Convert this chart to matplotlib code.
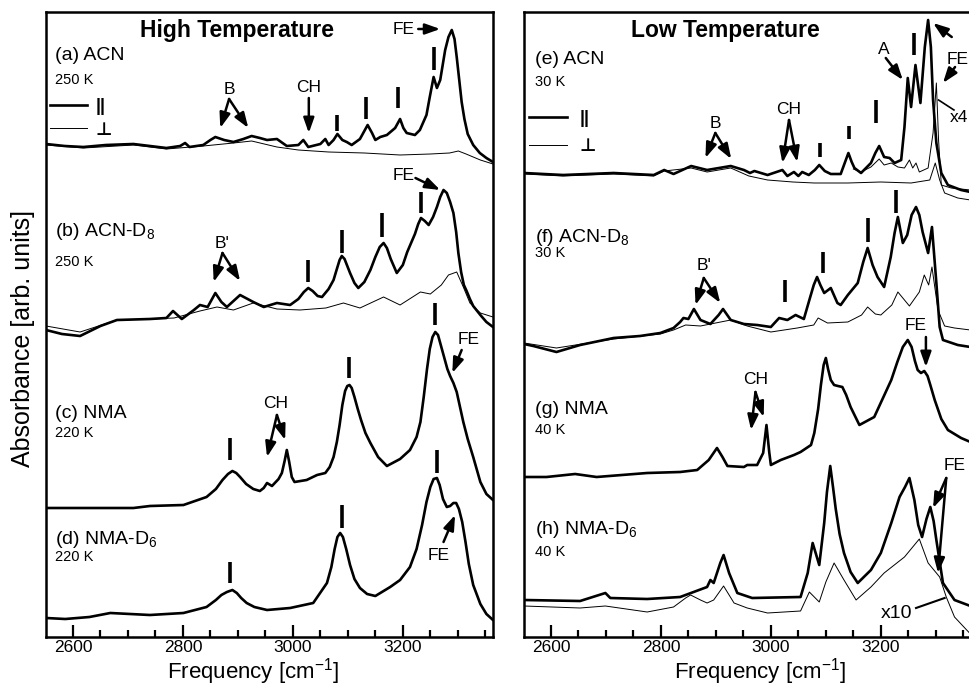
import matplotlib
matplotlib.use('Agg')
import matplotlib.pyplot as plt
from matplotlib.lines import Line2D
from matplotlib.ticker import MultipleLocator

plt.rcParams['font.family'] = ['Liberation Sans', 'DejaVu Sans']
plt.rcParams['mathtext.fontset'] = 'custom'
plt.rcParams['mathtext.rm'] = 'Liberation Sans'
plt.rcParams['mathtext.it'] = 'Liberation Sans:italic'
plt.rcParams['mathtext.bf'] = 'Liberation Sans:bold'

# ---- High temperature spectra (stacked, arb. units) ----
acn_hi_x = [2551, 2585, 2619, 2660, 2710, 2740, 2770, 2795, 2804, 2812, 2837, 2850, 2859, 2875, 2892, 2910,
            2925, 2940, 2953, 2971, 2989, 3010, 3019, 3028, 3050, 3059, 3065, 3074, 3081, 3090, 3098, 3107,
            3122, 3131, 3136, 3144, 3150, 3159, 3171, 3186, 3195, 3201, 3207, 3222, 3231, 3243, 3249, 3256,
            3262, 3268, 3277, 3283, 3289, 3294, 3298, 3303, 3307, 3312, 3318, 3328, 3340, 3352, 3364]
acn_hi_par = [493, 491, 490, 492, 493, 491, 489, 491, 494, 490, 492, 497, 500, 497, 495, 498,
              501, 499, 497, 498, 491, 492, 497, 490, 493, 498, 492, 497, 503, 497, 495, 492,
              498, 507, 512, 504, 497, 500, 502, 509, 518, 509, 504, 502, 507, 522, 540, 560,
              549, 557, 587, 600, 607, 598, 580, 555, 535, 518, 503, 492, 484, 479, 475]
acn_hi_perp_x = [2551, 2619, 2710, 2770, 2837, 2892, 2925, 2971, 3010, 3065, 3130, 3195, 3250, 3285,
                 3301, 3315, 3341, 3364]
acn_hi_perp = [492, 489, 492, 488, 491, 494, 496, 490, 487, 485, 484, 482, 483, 484, 486, 483, 477, 473]

acnd_hi_x = [2551, 2580, 2613, 2650, 2680, 2740, 2770, 2782, 2798, 2820, 2831, 2845, 2859, 2870, 2880,
             2904, 2928, 2947, 2971, 2995, 3010, 3020, 3028, 3036, 3045, 3053, 3065, 3074, 3080, 3085,
             3089, 3094, 3099, 3104, 3112, 3119, 3130, 3141, 3150, 3158, 3165, 3171, 3178, 3189, 3200,
             3208, 3215, 3222, 3228, 3233, 3240, 3247, 3255, 3262, 3268, 3274, 3280, 3286, 3292, 3297,
             3301, 3306, 3311, 3316, 3322, 3328, 3341, 3352, 3364]
acnd_hi_par = [307, 303, 301, 311, 317, 318, 319, 326, 318, 327, 332, 330, 344, 335, 330,
               342, 335, 330, 334, 332, 338, 345, 349, 346, 341, 340, 348, 357, 368, 377,
               381, 378, 371, 364, 354, 349, 355, 367, 380, 390, 394, 389, 378, 364, 372,
               385, 394, 403, 413, 419, 416, 412, 420, 430, 440, 447, 444, 435, 424, 405,
               384, 365, 352, 346, 338, 331, 322, 315, 310]
acnd_hi_perp_x = [2551, 2613, 2680, 2740, 2784, 2831, 2862, 2892, 2928, 2971, 3013, 3060, 3092, 3122,
                  3165, 3195, 3232, 3250, 3270, 3283, 3298, 3310, 3322, 3341, 3364]
acnd_hi_perp = [311, 305, 317, 318, 319, 326, 330, 327, 334, 328, 327, 329, 334, 329,
                340, 332, 345, 343, 352, 362, 365, 350, 334, 324, 320]

nma_hi_x = [2551, 2625, 2710, 2740, 2801, 2843, 2860, 2872, 2882, 2890, 2897, 2904, 2915, 2928, 2940,
            2947, 2953, 2962, 2974, 2980, 2985, 2989, 2993, 2998, 3003, 3025, 3044, 3059, 3067, 3074,
            3080, 3085, 3090, 3095, 3099, 3103, 3107, 3112, 3118, 3124, 3132, 3141, 3155, 3171, 3195,
            3213, 3225, 3232, 3238, 3244, 3249, 3254, 3259, 3264, 3269, 3275, 3281, 3286, 3292, 3298,
            3304, 3310, 3318, 3328, 3341, 3352, 3364]
nma_hi_par = [129, 129, 129, 131, 132, 140, 148, 157, 163, 166, 164, 160, 153, 148, 146,
              149, 154, 151, 158, 164, 176, 187, 176, 160, 155, 157, 162, 164, 170, 180,
              195, 212, 232, 246, 251, 252, 249, 240, 228, 217, 204, 194, 180, 171, 178,
              187, 200, 215, 240, 268, 288, 300, 305, 302, 292, 280, 268, 261, 254, 245,
              230, 215, 198, 180, 155, 143, 137]

nmad_hi_x = [2551, 2586, 2630, 2668, 2740, 2801, 2843, 2860, 2870, 2880, 2890, 2898, 2906, 2916, 2930,
             2953, 2995, 3037, 3062, 3070, 3076, 3081, 3086, 3091, 3097, 3104, 3112, 3122, 3135, 3150,
             3177, 3195, 3213, 3225, 3235, 3243, 3250, 3256, 3262, 3267, 3273, 3280, 3286, 3292, 3297,
             3302, 3308, 3314, 3320, 3328, 3341, 3352, 3364]
nmad_hi_par = [19, 18, 20, 24, 22, 24, 30, 37, 42, 45, 47, 44, 39, 34, 30,
               27, 29, 34, 54, 70, 88, 100, 104, 100, 88, 72, 58, 49, 43, 41,
               50, 57, 70, 88, 112, 135, 150, 158, 159, 152, 138, 130, 131, 134, 134,
               128, 115, 95, 73, 52, 33, 23, 17]

# ---- Low temperature spectra ----
acn_lo_x = [2551, 2622, 2714, 2787, 2806, 2823, 2855, 2884, 2927, 2951, 2962, 2970, 2994, 3021, 3030,
            3042, 3050, 3057, 3069, 3080, 3088, 3098, 3109, 3127, 3135, 3141, 3147, 3152, 3164, 3182,
            3190, 3197, 3206, 3216, 3225, 3237, 3243, 3249, 3255, 3263, 3272, 3280, 3286, 3291, 3295,
            3301, 3310, 3322, 3346, 3363]
acn_lo_par = [464, 462, 464, 462, 467, 463, 471, 467, 471, 467, 464, 466, 462, 467, 461,
              465, 461, 465, 462, 467, 472, 466, 463, 463, 475, 484, 475, 469, 464, 474,
              484, 491, 480, 479, 474, 477, 510, 559, 530, 572, 534, 590, 617, 590, 537,
              494, 464, 452, 447, 445]
acn_lo_perp_x = [2551, 2622, 2714, 2787, 2806, 2855, 2884, 2927, 2960, 2994, 3040, 3079, 3140, 3200,
                 3255, 3289, 3299, 3307, 3316, 3340, 3363]
acn_lo_perp = [463, 461, 463, 461, 466, 469, 465, 469, 461, 457, 455, 454, 454, 455,
               454, 457, 474, 457, 444, 439, 437]
acn_lo_x4_x = [3150, 3164, 3182, 3197, 3206, 3219, 3231, 3243, 3252, 3258, 3264, 3270, 3286, 3295,
               3301, 3305, 3310, 3328, 3363]
acn_lo_x4 = [468, 465, 470, 478, 472, 474, 470, 469, 477, 469, 474, 465, 469, 504,
             554, 497, 452, 449, 447]

acnd_lo_x = [2551, 2568, 2610, 2653, 2714, 2762, 2799, 2823, 2835, 2841, 2850, 2860, 2872, 2890, 2905,
             2913, 2927, 2951, 2975, 3000, 3015, 3030, 3045, 3060, 3070, 3078, 3084, 3090, 3097, 3109,
             3121, 3127, 3140, 3158, 3168, 3176, 3185, 3194, 3206, 3218, 3225, 3231, 3240, 3248, 3256,
             3264, 3270, 3276, 3286, 3293, 3301, 3307, 3313, 3340, 3363]
acnd_lo_par = [293, 291, 285, 292, 299, 301, 304, 309, 315, 319, 318, 328, 317, 313, 322,
               328, 317, 313, 312, 310, 319, 317, 322, 318, 337, 352, 360, 352, 344, 349,
               334, 332, 342, 354, 375, 389, 372, 360, 350, 380, 404, 420, 394, 402, 422,
               430, 422, 405, 384, 410, 354, 310, 297, 292, 290]
acnd_lo_perp_x = [2551, 2610, 2714, 2799, 2823, 2845, 2872, 2927, 2957, 3000, 3048, 3078, 3086, 3103,
                  3140, 3165, 3176, 3190, 3200, 3220, 3231, 3252, 3270, 3279, 3287, 3293, 3304, 3316,
                  3334, 3363]
acnd_lo_perp = [294, 289, 298, 303, 307, 312, 311, 317, 311, 305, 309, 312, 319, 314,
                315, 322, 330, 323, 322, 332, 345, 331, 345, 362, 352, 370, 327, 311,
                309, 307]

nma_lo_x = [2551, 2592, 2644, 2683, 2775, 2835, 2866, 2887, 2902, 2912, 2921, 2951, 2957, 2975, 2986,
            2992, 2997, 3000, 3018, 3042, 3054, 3073, 3079, 3086, 3091, 3096, 3100, 3104, 3109, 3115,
            3122, 3130, 3137, 3145, 3161, 3188, 3219, 3230, 3240, 3249, 3256, 3262, 3267, 3273, 3279,
            3285, 3290, 3298, 3310, 3322, 3346, 3363]
nma_lo_par = [160, 160, 163, 160, 164, 165, 167, 177, 189, 180, 171, 170, 172, 172, 184,
              212, 185, 172, 177, 182, 185, 192, 204, 228, 252, 272, 279, 268, 257, 252,
              251, 250, 242, 230, 212, 220, 257, 275, 290, 297, 290, 276, 267, 264, 266,
              261, 252, 237, 218, 207, 199, 195]

nmad_lo_x = [2551, 2653, 2699, 2708, 2775, 2835, 2884, 2890, 2896, 2908, 2914, 2924, 2939, 2966, 3054,
             3067, 3076, 3088, 3097, 3102, 3108, 3113, 3118, 3125, 3133, 3145, 3158, 3182, 3200, 3219,
             3234, 3244, 3252, 3261, 3268, 3275, 3283, 3290, 3296, 3301, 3313, 3334, 3363]
nmad_lo_par = [37, 36, 44, 39, 38, 40, 50, 57, 54, 74, 82, 64, 44, 39, 40,
               64, 94, 72, 114, 145, 171, 150, 128, 103, 84, 65, 54, 67, 84, 114,
               140, 150, 159, 137, 112, 100, 118, 130, 116, 97, 54, 37, 31]
nmad_lo_x10_x = [2551, 2653, 2699, 2775, 2823, 2845, 2854, 2872, 2884, 2896, 2914, 2933, 2957, 2994,
                 3054, 3070, 3088, 3100, 3115, 3133, 3155, 3182, 3206, 3243, 3270, 3286, 3307, 3319,
                 3334, 3363]
nmad_lo_x10 = [31, 29, 31, 25, 30, 39, 42, 37, 34, 37, 51, 34, 29, 24,
               26, 45, 35, 55, 74, 57, 37, 50, 64, 80, 98, 74, 60, 40, 20, 3]

# peak markers: (frequency, bottom, top)
marks_hi = [(3081, 506, 522), (3133, 518, 540), (3191, 529, 550), (3256, 567, 590),
            (3028, 355, 377), (3089, 384, 407), (3163, 400, 424), (3233, 424, 445),
            (2886, 177, 199), (3102, 259, 280), (3259, 312, 334),
            (2886, 54, 75), (3089, 109, 132), (3263, 164, 187)]
marks_lo = [(3090, 480, 494), (3142, 498, 511), (3192, 514, 537), (3261, 582, 604),
            (3025, 335, 357), (3095, 364, 385), (3176, 395, 419), (3228, 424, 447)]

thick = 1.9
thin = 0.7
fig = plt.figure(figsize=(9.69, 6.88), dpi=100)
ax1 = fig.add_axes([46 / 969, 51 / 688, 447 / 969, 625 / 688])
ax2 = fig.add_axes([524 / 969, 51 / 688, 447 / 969, 625 / 688])

ax1.plot(acn_hi_x, acn_hi_par, color='k', lw=thick)
ax1.plot(acn_hi_perp_x, acn_hi_perp, color='k', lw=thin)
ax1.plot(acnd_hi_x, acnd_hi_par, color='k', lw=thick)
ax1.plot(acnd_hi_perp_x, acnd_hi_perp, color='k', lw=thin)
ax1.plot(nma_hi_x, nma_hi_par, color='k', lw=thick)
ax1.plot(nmad_hi_x, nmad_hi_par, color='k', lw=thick)

ax2.plot(acn_lo_x, acn_lo_par, color='k', lw=thick)
ax2.plot(acn_lo_perp_x, acn_lo_perp, color='k', lw=thin)
ax2.plot(acn_lo_x4_x, acn_lo_x4, color='k', lw=thin)
ax2.plot(acnd_lo_x, acnd_lo_par, color='k', lw=thick)
ax2.plot(acnd_lo_perp_x, acnd_lo_perp, color='k', lw=thin)
ax2.plot(nma_lo_x, nma_lo_par, color='k', lw=thick)
ax2.plot(nmad_lo_x, nmad_lo_par, color='k', lw=thick)
ax2.plot(nmad_lo_x10_x, nmad_lo_x10, color='k', lw=thin)

for ax, marks in [(ax1, marks_hi), (ax2, marks_lo)]:
    for f, y0, y1 in marks:
        ax.vlines(f, y0, y1, color='k', lw=2.6)
    ax.set_xlim(2551, 3364)
    ax.set_ylim(0, 625)
    ax.set_yticks([])
    ax.xaxis.set_major_locator(MultipleLocator(200))
    ax.xaxis.set_minor_locator(MultipleLocator(50))
    ax.tick_params(axis='x', which='major', direction='in', length=9, width=1.6, labelsize=12.5, pad=2.5)
    ax.tick_params(axis='x', which='minor', direction='in', length=5, width=1.6)
    for s in ax.spines.values():
        s.set_linewidth(1.8)
    ax.set_xlabel('Frequency [cm$^{-1}$]', fontsize=16, va='center')

ax1.xaxis.set_label_coords(0.463, -0.055)
ax2.xaxis.set_label_coords(0.528, -0.055)
ax1.set_ylabel('Absorbance [arb. units]', fontsize=18, va='center')
ax1.yaxis.set_label_coords(-0.051, 0.477)

legend_lines = [Line2D([], [], color='k', lw=thick), Line2D([], [], color='k', lw=thin)]
leg1 = ax1.legend(legend_lines, ['||', '\u22a5'], loc='upper left', frameon=False,
                  bbox_to_anchor=(0.008, 0.862), fontsize=13, handlelength=2.1,
                  handletextpad=0.45, labelspacing=0.35, borderpad=0, borderaxespad=0)
leg2 = ax2.legend(legend_lines, ['||', '\u22a5'], loc='upper left', frameon=False,
                  bbox_to_anchor=(0.012, 0.843), fontsize=13, handlelength=2.1,
                  handletextpad=0.7, labelspacing=0.6, borderpad=0, borderaxespad=0)
for leg in (leg1, leg2):
    for t in leg.get_texts():
        t.set_fontweight('bold')

arrow = dict(arrowstyle='-|>,head_length=0.9,head_width=0.32', lw=1.8, color='k',
             shrinkA=0, shrinkB=0, mutation_scale=10)
lab = dict(fontsize=14, ha='left', va='center')
sub = dict(fontsize=10.5, ha='left', va='center')
ann = dict(fontsize=12.5, ha='center', va='center')

# high temperature panel text
ax1.text(2899, 607, 'High Temperature', fontsize=16.5, fontweight='bold', ha='center', va='center')
ax1.text(2568, 581, '(a) ACN', **lab)
ax1.text(2568, 557, '250 K', **sub)
ax1.text(2568, 405, '(b) ACN-D$_8$', **lab)
ax1.text(2568, 375, '250 K', **sub)
ax1.text(2568, 224, '(c) NMA', **lab)
ax1.text(2568, 204, '220 K', **sub)
ax1.text(2568, 97, '(d) NMA-D$_6$', **lab)
ax1.text(2568, 80, '220 K', **sub)

ax1.text(2884, 548, 'B', **ann)
ax1.annotate('', xy=(2868, 509), xytext=(2884, 538), arrowprops=arrow)
ax1.annotate('', xy=(2919, 509), xytext=(2884, 538), arrowprops=arrow)
ax1.text(3028, 549, 'CH', **ann)
ax1.annotate('', xy=(3029, 504), xytext=(3029, 539), arrowprops=arrow)
ax1.text(3201, 608, 'FE', **ann)
ax1.annotate('', xy=(3268, 608), xytext=(3228, 608), arrowprops=arrow)

ax1.text(2872, 394, "B'", **ann)
ax1.annotate('', xy=(2856, 355), xytext=(2872, 384), arrowprops=arrow)
ax1.annotate('', xy=(2904, 356), xytext=(2872, 384), arrowprops=arrow)
ax1.text(3201, 462, 'FE', **ann)
ax1.annotate('', xy=(3268, 447), xytext=(3223, 459), arrowprops=arrow)

ax1.text(2968, 234, 'CH', **ann)
ax1.annotate('', xy=(2953, 180), xytext=(2971, 222), arrowprops=arrow)
ax1.annotate('', xy=(2986, 197), xytext=(2971, 222), arrowprops=arrow)
ax1.text(3319, 298, 'FE', **ann)
ax1.annotate('', xy=(3290, 264), xytext=(3307, 287), arrowprops=arrow)

ax1.text(3265, 82, 'FE', **ann)
ax1.annotate('', xy=(3295, 122), xytext=(3274, 95), arrowprops=arrow)

# low temperature panel text
ax2.text(2917, 607, 'Low Temperature', fontsize=16.5, fontweight='bold', ha='center', va='center')
ax2.text(2571, 577, '(e) ACN', **lab)
ax2.text(2571, 555, '30 K', **sub)
ax2.text(2571, 400, '(f) ACN-D$_8$', **lab)
ax2.text(2571, 384, '30 K', **sub)
ax2.text(2571, 227, '(g) NMA', **lab)
ax2.text(2571, 207, '40 K', **sub)
ax2.text(2571, 108, '(h) NMA-D$_6$', **lab)
ax2.text(2571, 85, '40 K', **sub)

ax2.text(2899, 514, 'B', **ann)
ax2.annotate('', xy=(2881, 479), xytext=(2899, 504), arrowprops=arrow)
ax2.annotate('', xy=(2928, 478), xytext=(2899, 504), arrowprops=arrow)
ax2.text(3033, 528, 'CH', **ann)
ax2.annotate('', xy=(3021, 474), xytext=(3033, 517), arrowprops=arrow)
ax2.annotate('', xy=(3048, 475), xytext=(3033, 517), arrowprops=arrow)
ax2.text(3206, 587, 'A', **ann)
ax2.annotate('', xy=(3240, 557), xytext=(3209, 579), arrowprops=arrow)
ax2.text(3340, 577, 'FE', **ann)
ax2.annotate('', xy=(3295, 614), xytext=(3329, 600), arrowprops=arrow)
ax2.annotate('', xy=(3313, 554), xytext=(3335, 570), arrowprops=arrow)
ax2.text(3343, 520, 'x4', **ann)
ax2.plot([3305, 3333], [537, 527], color='k', lw=1.2)

ax2.text(2878, 372, "B'", **ann)
ax2.annotate('', xy=(2863, 332), xytext=(2878, 359), arrowprops=arrow)
ax2.annotate('', xy=(2908, 334), xytext=(2878, 359), arrowprops=arrow)
ax2.text(3264, 312, 'FE', **ann)
ax2.annotate('', xy=(3282, 270), xytext=(3282, 300), arrowprops=arrow)

ax2.text(2972, 258, 'CH', **ann)
ax2.annotate('', xy=(2964, 207), xytext=(2972, 245), arrowprops=arrow)
ax2.annotate('', xy=(2987, 220), xytext=(2972, 245), arrowprops=arrow)

ax2.text(3334, 172, 'FE', **ann)
ax2.annotate('', xy=(3295, 129), xytext=(3319, 159), arrowprops=arrow)
ax2.annotate('', xy=(3304, 64), xytext=(3319, 159), arrowprops=arrow)
ax2.text(3228, 24, 'x10', fontsize=14, ha='center', va='center')
ax2.plot([3264, 3316], [29, 39], color='k', lw=1.5)

fig.savefig('out.png', dpi=100)
